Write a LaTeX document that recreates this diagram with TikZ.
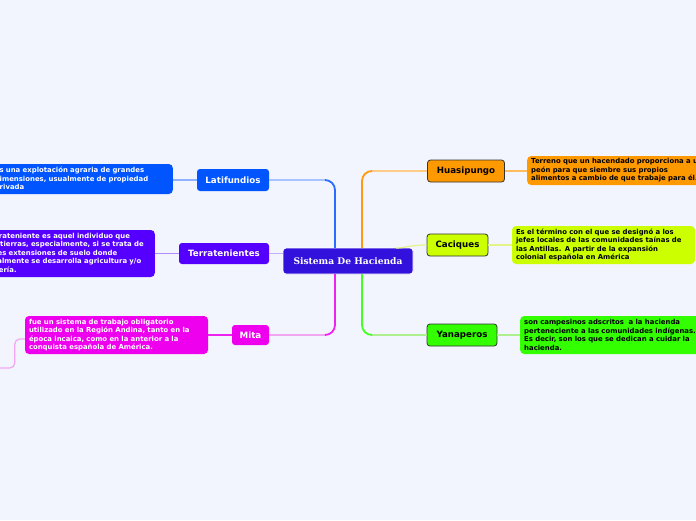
\documentclass[tikz,border=0pt]{standalone}
\usepackage{fontspec}
\setmainfont{DejaVu Sans}
\newfontfamily\hdserif{DejaVu Serif}
\definecolor{bgc}{HTML}{F2F5FD}
\definecolor{cCenter}{HTML}{3311DD}
\definecolor{cLat}{HTML}{0055FF}
\definecolor{cTer}{HTML}{5500FF}
\definecolor{cMit}{HTML}{EE00EE}
\definecolor{cHua}{HTML}{FF9900}
\definecolor{cCac}{HTML}{CCFF00}
\definecolor{cYan}{HTML}{33FF00}
\definecolor{lLat}{HTML}{2B6BFF}
\definecolor{lLatL}{HTML}{A8C4FF}
\definecolor{lTerL}{HTML}{C4AEFF}
\definecolor{lMit}{HTML}{EE22EE}
\definecolor{lMitL}{HTML}{F2A6F2}
\definecolor{lHua}{HTML}{FF9A10}
\definecolor{lHuaL}{HTML}{FFCC88}
\definecolor{lCacL}{HTML}{E4F28A}
\definecolor{lYan}{HTML}{44FF22}
\definecolor{lYanL}{HTML}{AEF090}
\definecolor{border}{HTML}{333333}
\tikzset{
  topic/.style={rounded corners=3pt, inner sep=0pt, font=\fontsize{8.7}{10}\selectfont\bfseries},
  lefttopic/.style={topic, text=white},
  righttopic/.style={topic, text=black, draw=border, line width=0.8pt},
  desc/.style={rounded corners=4pt, inner xsep=4pt, inner ysep=2pt, align=left,
               font=\fontsize{6.9}{8.4}\selectfont\bfseries},
  strongline/.style={line width=1.8pt, rounded corners=10pt},
  lightline/.style={line width=1.2pt},
}
\begin{document}
\begin{tikzpicture}[x=1pt,y=-1pt]
\useasboundingbox (0,0) rectangle (696,520);
\clip (0,0) rectangle (696,520);
\fill[bgc] (0,0) rectangle (696,520);

% coordinates for connector bends
\coordinate (cLc) at (325,180);
\coordinate (cLt) at (335,248);
\coordinate (cMc) at (325,335);
\coordinate (cLb) at (335,274);
\coordinate (cRc) at (372,171);
\coordinate (cRt) at (362,248);
\coordinate (cYc) at (372,335);
\coordinate (cRb) at (362,274);
\coordinate (cCs) at (396,248);
\coordinate (mtail) at (-5,368);

% central node
\node[rounded corners=3pt, fill=cCenter, draw=white, line width=0.8pt,
      minimum width=130pt, minimum height=26pt, inner sep=0pt, text=white,
      font=\hdserif\fontsize{9.1}{11}\selectfont\bfseries] (center) at (348,261) {Sistema De Hacienda};

% main topics
\node[lefttopic, fill=cLat, minimum width=72pt, minimum height=22pt] (lat) at (233,180) {Latifundios};
\node[lefttopic, fill=cTer, minimum width=90pt, minimum height=21pt] (ter) at (224,253.5) {Terratenientes};
\node[lefttopic, fill=cMit, minimum width=37pt, minimum height=20pt] (mit) at (250.5,335) {Mita};
\node[righttopic, fill=cHua, minimum width=77pt, minimum height=22pt] (hua) at (466,171) {Huasipungo};
\node[righttopic, fill=cCac, minimum width=61pt, minimum height=22pt] (cac) at (457.5,245) {Caciques};
\node[righttopic, fill=cYan, minimum width=70pt, minimum height=22pt] (yan) at (462,335) {Yanaperos};

% descriptions
\node[desc, fill=cLat, text=white, text width=174pt, minimum height=30pt, anchor=east] (latd) at (173,179)
 {\mbox{Es una explotación agraria de grandes}\\\mbox{dimensiones, usualmente de propiedad}\\\mbox{privada}};
\node[desc, fill=cTer, text=white, text width=176pt, minimum height=47pt, anchor=east] (terd) at (155,253.5)
 {\mbox{Un terrateniente es aquel individuo que}\\\mbox{posee tierras, especialmente, si se trata de}\\\mbox{grandes extensiones de suelo donde}\\\mbox{generalmente se desarrolla agricultura y/o}\\\mbox{ganadería.}};
\node[desc, fill=cMit, text=white, text width=175pt, minimum height=38pt] (mitd) at (116.5,335)
 {\mbox{fue un sistema de trabajo obligatorio}\\\mbox{utilizado en la Región Andina, tanto en la}\\\mbox{época incaica, como en la anterior a la}\\\mbox{conquista española de América.}};
\node[desc, fill=cHua, text=black, text width=190pt, minimum height=29pt, anchor=west] (huad) at (527,170.5)
 {\mbox{Terreno que un hacendado proporciona a un}\\\mbox{peón para que siembre sus propios}\\\mbox{alimentos a cambio de que trabaje para él.}};
\node[desc, fill=cCac, text=black, text width=175pt, minimum height=38pt] (cacd) at (603.5,245)
 {\mbox{Es el término con el que se designó a los}\\\mbox{jefes locales de las comunidades taínas de}\\\mbox{las Antillas. A partir de la expansión}\\\mbox{colonial española en América}};
\node[desc, fill=cYan, text=black, text width=185pt, minimum height=38pt, anchor=west] (yand) at (520,335)
 {\mbox{son campesinos adscritos\ \ a la hacienda}\\\mbox{perteneciente a las comunidades indígenas.}\\\mbox{Es decir, son los que se dedican a cuidar la}\\\mbox{hacienda.}};

% connectors centre -> topics
\draw[lightline, lLatL] (lat.east) -- (cLc);
\draw[strongline, lLat] (cLc) -| (cLt);
\draw[lightline, lTerL] (ter.east) -- (center.west |- ter.east);
\draw[lightline, lMitL] (mit.east) -- (cMc);
\draw[strongline, lMit] (cMc) -| (cLb);
\draw[lightline, lHuaL] (hua.west) -- (cRc);
\draw[strongline, lHua] (cRc) -| (cRt);
\draw[lightline, lCacL] (cCs) .. controls ([xshift=10pt]cCs) and ([xshift=-18pt]cac.west) .. (cac.west);
\draw[lightline, lYanL] (yan.west) -- (cYc);
\draw[strongline, lYan] (cYc) -| (cRb);

% connectors topics -> descriptions
\draw[lightline, lLatL!80!lLat] (lat.west) -- (latd.east |- lat.west);
\draw[lightline, lTerL!80!cTer] (ter.west) -- (terd.east |- ter.west);
\draw[lightline, lMit] (mit.west) -- (mitd.east |- mit.west);
\draw[lightline, lHuaL!70!cHua] (hua.east) -- (huad.west |- hua.east);
\draw[lightline, lCacL] (cac.east) -- (cacd.west |- cac.east);
\draw[lightline, lYanL] (yan.east) -- (yand.west |- yan.east);

% tail from Mita description
\draw[lightline, lMitL, rounded corners=5pt] ([yshift=-4pt]mitd.west) -- ++(-10,0) |- (mtail);
\end{tikzpicture}
\end{document}
